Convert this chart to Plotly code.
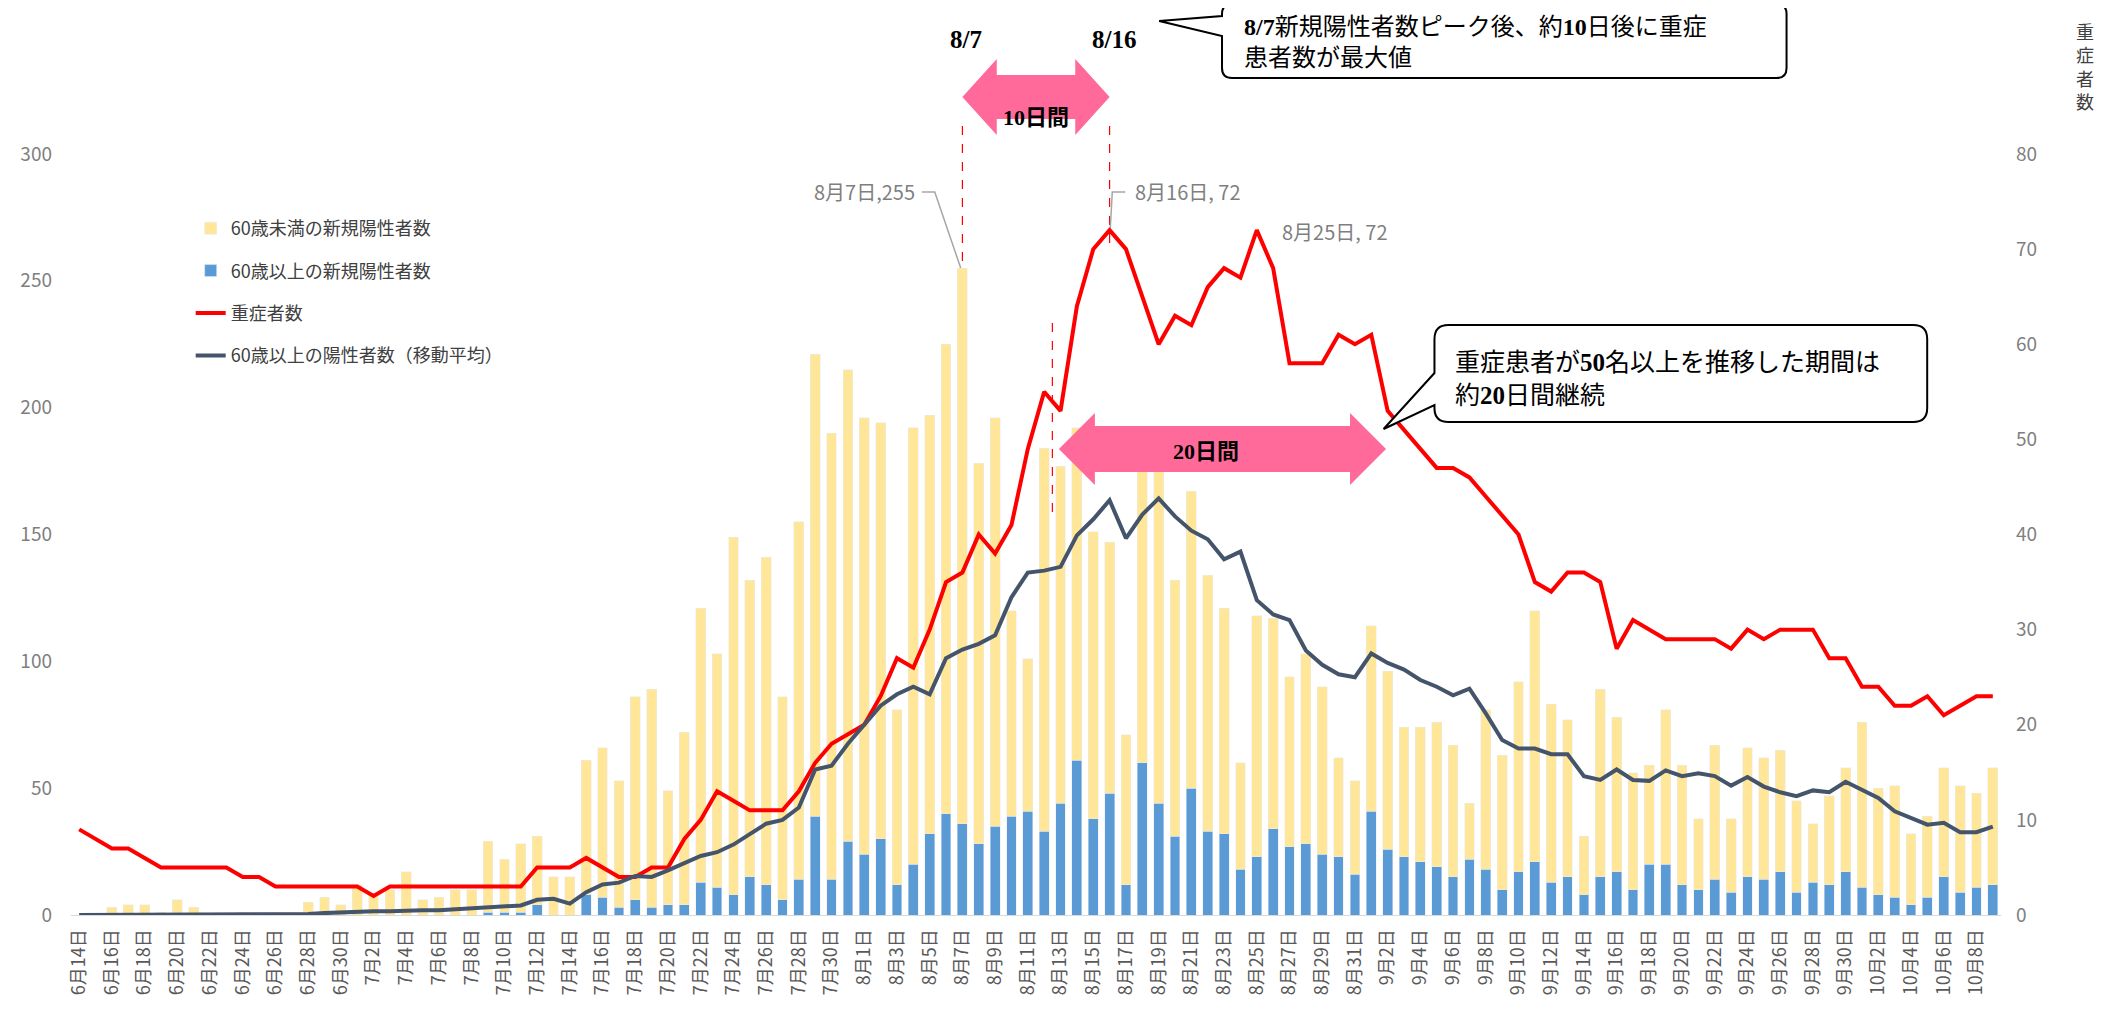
import datetime as dt
import plotly.graph_objects as go

# 日付ラベル(6月14日〜10月9日)
start = dt.date(2020, 6, 14)
n_days = 118
dates = [f"{(start + dt.timedelta(days=k)).month}月{(start + dt.timedelta(days=k)).day}日"
         for k in range(n_days)]

# 新規陽性者数(合計=棒の高さ)
total_cases = [
    0, 0, 3, 4, 4, 1, 6, 3, 0, 0,
    1, 0, 1, 1, 5, 7, 4, 12, 8, 10,
    17, 6, 7, 10, 10, 29, 22, 28, 31, 15,
    15, 61, 66, 53, 86, 89, 49, 72, 121, 103,
    149, 132, 141, 86, 155, 221, 190, 215, 196, 194,
    81, 192, 197, 225, 255, 178, 196, 120, 101, 184,
    177, 192, 151, 147, 71, 176, 180, 132, 167, 134,
    121, 60, 118, 117, 94, 103, 90, 62, 53, 114,
    96, 74, 74, 76, 67, 44, 81, 63, 92, 120,
    83, 77, 31, 89, 78, 56, 59, 81, 59, 38,
    67, 38, 66, 62, 65, 45, 36, 47, 58, 76,
    50, 51, 32, 39, 58, 51, 48, 58,
]

# 60歳以上の新規陽性者数
over60 = [
    0, 0, 0, 0, 0, 0, 0, 0, 0, 0,
    0, 0, 0, 0, 0, 0, 0, 0, 0, 0,
    0, 0, 0, 0, 0, 1, 1, 1, 4, 0,
    0, 8, 7, 3, 6, 3, 4, 4, 13, 11,
    8, 15, 12, 6, 14, 39, 14, 29, 24, 30,
    12, 20, 32, 40, 36, 28, 35, 39, 41, 33,
    44, 61, 38, 48, 12, 60, 44, 31, 50, 33,
    32, 18, 23, 34, 27, 28, 24, 23, 16, 41,
    26, 23, 21, 19, 15, 22, 18, 10, 17, 21,
    13, 15, 8, 15, 17, 10, 20, 20, 12, 10,
    14, 9, 15, 14, 17, 9, 13, 12, 17, 11,
    8, 7, 4, 7, 15, 9, 11, 12,
]

# 重症者数
severe = [
    9, 8, 7, 7, 6, 5, 5, 5, 5, 5,
    4, 4, 3, 3, 3, 3, 3, 3, 2, 3,
    3, 3, 3, 3, 3, 3, 3, 3, 5, 5,
    5, 6, 5, 4, 4, 5, 5, 8, 10, 13,
    12, 11, 11, 11, 13, 16, 18, 19, 20, 23,
    27, 26, 30, 35, 36, 40, 38, 41, 49, 55,
    53, 64, 70, 72, 70, 65, 60, 63, 62, 66,
    68, 67, 72, 68, 58, 58, 58, 61, 60, 61,
    53, 51, 49, 47, 47, 46, 44, 42, 40, 35,
    34, 36, 36, 35, 28, 31, 30, 29, 29, 29,
    29, 28, 30, 29, 30, 30, 30, 27, 27, 24,
    24, 22, 22, 23, 21, 22, 23, 23,
]

# 60歳以上の陽性者数(移動平均)
over60_ma = [
    0, 0, 0, 0, 0, 0, 0, 0, 0, 0,
    0, 0, 0, 0, 0.1, 0.2, 0.3, 0.3, 0.4, 0.4,
    0.5, 0.5, 0.5, 0.6, 0.7, 0.8, 0.9, 1.0, 1.6, 1.7,
    1.2, 2.4, 3.2, 3.4, 4.1, 4.0, 4.7, 5.5, 6.2, 6.6,
    7.4, 8.5, 9.6, 10.0, 11.3, 15.3, 15.7, 18.0, 20.0, 22.0,
    23.2, 24.0, 23.2, 27.0, 27.9, 28.5, 29.4, 33.4, 36.0, 36.2,
    36.6, 39.9, 41.6, 43.6, 39.6, 42.1, 43.8, 41.9, 40.4, 39.5,
    37.4, 38.2, 33.1, 31.6, 31.0, 27.8, 26.3, 25.3, 25.0, 27.5,
    26.5, 25.8, 24.7, 24.0, 23.1, 23.8, 21.2, 18.4, 17.5, 17.5,
    16.9, 16.9, 14.6, 14.2, 15.3, 14.2, 14.1, 15.2, 14.6, 14.9,
    14.6, 13.6, 14.5, 13.5, 12.9, 12.5, 13.1, 12.9, 14.0, 13.1,
    12.3, 10.9, 10.2, 9.5, 9.7, 8.7, 8.7, 9.3,
]

under60 = [t - o for t, o in zip(total_cases, over60)]
xs = list(range(n_days))

FONT = "Noto Sans CJK JP"
SERIF = "Liberation Serif"
PINK = "#ff6a9b"

# ページ余白(8px)を差し引いた図のサイズ
W, H = 2105, 1005
M_L, M_R, M_T, M_B = 58, 112, 146, 98
PW = W - M_L - M_R
PH = H - M_T - M_B
X0, Y0 = 66, 915  # 画面上のプロット領域左端・下端


def px(x):
    return (x - X0) / PW


def py(y):
    return (Y0 - y) / PH


def P(x, y):
    return f"{px(x):.5f},{py(y):.5f}"


def double_arrow(x0, x1, yc, hh, bh, head):
    pts = [(x0, yc), (x0 + head, yc - hh), (x0 + head, yc - bh), (x1 - head, yc - bh),
           (x1 - head, yc - hh), (x1, yc), (x1 - head, yc + hh), (x1 - head, yc + bh),
           (x0 + head, yc + bh), (x0 + head, yc + hh)]
    return "M " + " L ".join(f"{x:.3f},{py(y):.5f}" for x, y in pts) + " Z"


def callout(L, T, R, B, r, b1, b2, tip):
    return (f"M {P(L + r, T)} L {P(R - r, T)} Q {P(R, T)} {P(R, T + r)} "
            f"L {P(R, B - r)} Q {P(R, B)} {P(R - r, B)} L {P(L + r, B)} "
            f"Q {P(L, B)} {P(L, B - r)} L {P(L, b2)} L {P(*tip)} L {P(L, b1)} "
            f"L {P(L, T + r)} Q {P(L, T)} {P(L + r, T)} Z")


fig = go.Figure()
fig.add_trace(go.Bar(x=xs, y=over60, name="60歳以上の新規陽性者数",
                     marker_color="#5b9bd5", legendrank=2, legendgroup="b"))
fig.add_trace(go.Bar(x=xs, y=under60, name="60歳未満の新規陽性者数",
                     marker_color="#ffe699", legendrank=1, legendgroup="a"))
fig.add_trace(go.Scatter(x=xs, y=severe, name="重症者数", yaxis="y2", mode="lines",
                         line=dict(color="#ff0000", width=4), legendrank=3, legendgroup="c"))
fig.add_trace(go.Scatter(x=xs, y=over60_ma, name="60歳以上の陽性者数（移動平均）", yaxis="y2",
                         mode="lines", line=dict(color="#44546a", width=4),
                         legendrank=4, legendgroup="d"))

shapes = []
red_dash = dict(color="#ff0000", width=1.2, dash="dash")
shapes.append(dict(type="line", xref="x", yref="paper", x0=54, x1=54, y0=py(126), y1=py(268), line=red_dash))
shapes.append(dict(type="line", xref="x", yref="paper", x0=63, x1=63, y0=py(126), y1=py(248), line=red_dash))
shapes.append(dict(type="line", xref="x", yref="paper", x0=59.5, x1=59.5, y0=py(323), y1=py(520), line=red_dash))

# ピンクの両矢印
shapes.append(dict(type="path", xref="x", yref="paper", path=double_arrow(54, 63, 97, 38, 22, 2.1),
                   fillcolor=PINK, line=dict(width=0)))
shapes.append(dict(type="path", xref="x", yref="paper", path=double_arrow(59.9, 79.9, 449, 36, 23, 2.2),
                   fillcolor=PINK, line=dict(width=0)))

# 吹き出し
shapes.append(dict(type="path", xref="paper", yref="paper",
                   path=callout(1220, 4, 1786, 78, 10, 16, 36, (1157, 21)),
                   fillcolor="white", line=dict(color="black", width=2)))
shapes.append(dict(type="path", xref="paper", yref="paper",
                   path=callout(1433, 325, 1927, 422, 14, 373, 405, (1382, 429)),
                   fillcolor="white", line=dict(color="black", width=2)))

# データラベルの引出線
gray_line = dict(color="#a6a6a6", width=1.5)
shapes.append(dict(type="path", xref="paper", yref="paper",
                   path=f"M {P(919, 192)} L {P(932, 192)} L {P(958, 268)}", line=gray_line))
shapes.append(dict(type="path", xref="paper", yref="paper",
                   path=f"M {P(1123, 192)} L {P(1110, 192)} L {P(1108, 228)}", line=gray_line))

annotations = []


def note(text, x, y, size, color="black", xanchor="center", yanchor="middle", align="center", family=FONT):
    annotations.append(dict(text=text, x=px(x), y=py(y), xref="paper", yref="paper",
                            showarrow=False, xanchor=xanchor, yanchor=yanchor, align=align,
                            font=dict(family=family, size=size, color=color)))


bnum = lambda s: f"<span style='font-family:{SERIF}'><b>{s}</b></span>"

note("<b>8/7</b>", 963, 40, 25, family=SERIF)
note("<b>8/16</b>", 1112, 40, 25, family=SERIF)
note(f"{bnum('8/7')}新規陽性者数ピーク後、約{bnum('10')}日後に重症<br>患者数が最大値",
     1240, 5, 24, xanchor="left", yanchor="top", align="left")
note(f"重症患者が{bnum('50')}名以上を推移した期間は<br>約{bnum('20')}日間継続",
     1452, 340, 25, xanchor="left", yanchor="top", align="left")
note("8月7日,255", 862, 192, 20, color="#7f7f7f")
note("8月16日, 72", 1186, 192, 20, color="#7f7f7f")
note("8月25日, 72", 1333, 232, 20, color="#7f7f7f")
note("重<br>症<br>者<br>数", 2085, 66, 18, color="#404040")

annotations.append(dict(text=f"<b>{bnum('10')}日間</b>", x=58.5, y=py(97), xref="x", yref="paper",
                        showarrow=False, font=dict(family=FONT, size=22, color="black")))
annotations.append(dict(text=f"<b>{bnum('20')}日間</b>", x=68.9, y=py(449), xref="x", yref="paper",
                        showarrow=False, font=dict(family=FONT, size=22, color="black")))

fig.update_layout(
    width=W, height=H,
    margin=dict(l=M_L, r=M_R, t=M_T, b=M_B, pad=0),
    barmode="stack", bargap=0.4,
    plot_bgcolor="white", paper_bgcolor="white",
    font=dict(family=FONT, color="#595959"),
    xaxis=dict(tickmode="array", tickvals=xs[::2], ticktext=dates[::2], tickangle=-90,
               range=[-0.5, n_days - 0.5], showgrid=False, zeroline=False,
               showline=True, linecolor="#d9d9d9", linewidth=1,
               tickfont=dict(size=18, color="#595959"), ticks="", ticklabelstandoff=6),
    yaxis=dict(range=[0, 300], dtick=50, showgrid=False, zeroline=False,
               tickfont=dict(size=19, color="#7f7f7f"), ticklabelstandoff=18),
    yaxis2=dict(range=[0, 80], dtick=10, overlaying="y", side="right", showgrid=False,
                zeroline=False, tickfont=dict(size=19, color="#7f7f7f"), ticklabelstandoff=14),
    legend=dict(x=px(186), y=py(210), xanchor="left", yanchor="top",
                traceorder="grouped", tracegroupgap=16, bgcolor="rgba(0,0,0,0)",
                font=dict(size=18, color="#404040", family=FONT)),
    shapes=shapes,
    annotations=annotations,
)

fig.write_html("out.html")
